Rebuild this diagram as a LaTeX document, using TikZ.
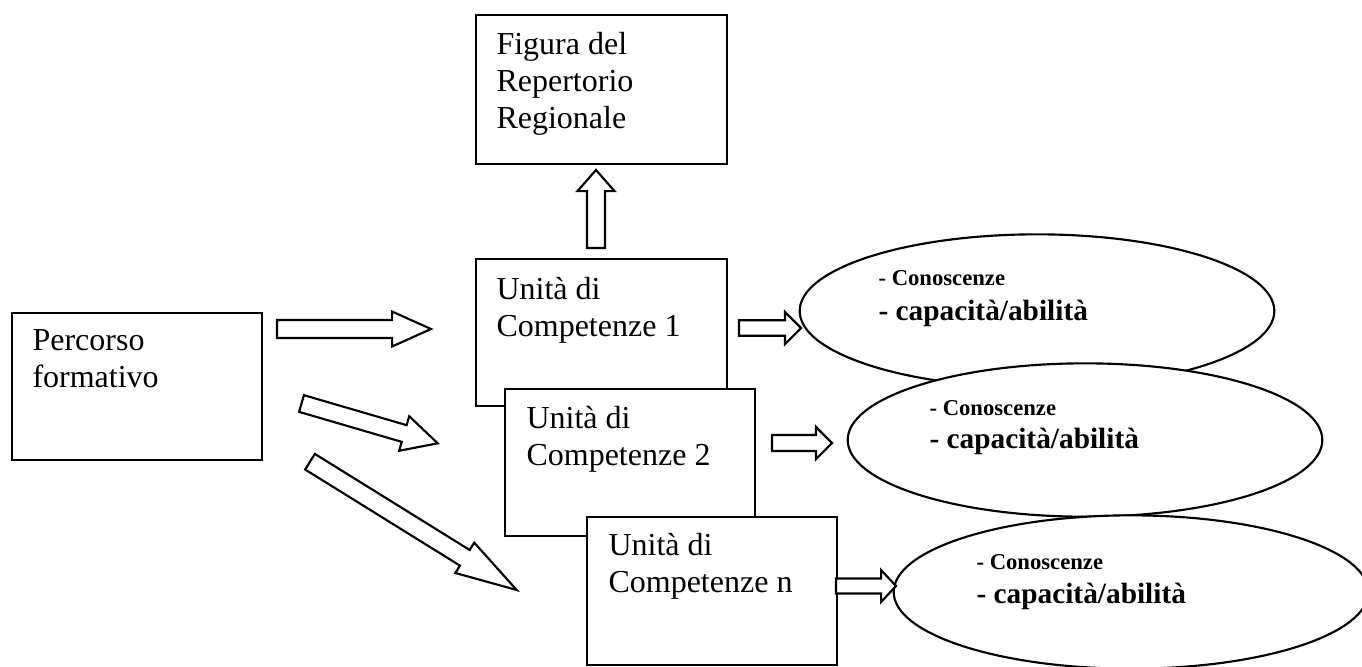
\documentclass[tikz,border=0pt]{standalone}
\usepackage{fontspec}
\setmainfont{Liberation Serif}
\usetikzlibrary{calc,shapes.geometric}
\tikzset{
  box/.style={draw, fill=white, line width=0.8pt, rectangle, inner sep=0pt, anchor=north west},
  ell/.style={draw, fill=white, line width=0.8pt, ellipse, inner sep=0pt, minimum width=178pt, minimum height=57.5pt},
  txt/.style={anchor=base west, inner sep=0pt, align=left, font=\fontsize{12}{13.8}\selectfont},
  smalltxt/.style={anchor=base west, inner sep=0pt, font=\fontsize{8.5}{10}\selectfont\bfseries},
  bigtxt/.style={anchor=base west, inner sep=0pt, font=\fontsize{11}{13}\selectfont\bfseries},
  barrow/.style={draw, fill=white, line width=0.8pt, line join=miter},
}
% #1 tail, #2 tip, #3 shaft half width, #4 head half width, #5 head length
\newcommand\blockarrow[5]{%
  \coordinate (hb) at ($(#2)!#5!(#1)$);
  \draw[barrow] ($(#1)!#3!90:(#2)$) -- ($(hb)!#3!90:(#2)$) -- ($(hb)!#4!90:(#2)$) -- (#2)
    -- ($(hb)!#4!-90:(#2)$) -- ($(hb)!#3!-90:(#2)$) -- ($(#1)!#3!-90:(#2)$) -- cycle;
}
\begin{document}
\begin{tikzpicture}[x=0.375pt, y=-0.375pt]
\useasboundingbox (0,0) rectangle (1362,666);
% ellipses
\node[ell] (e1) at (1037,311) {};
\node[ell] (e2) at (1085,440) {};
\node[ell] (e3) at (1131,592) {};
\node[smalltxt] (e1a) at (878,285) {- Conoscenze};
\node[bigtxt]   (e1b) at (878,320) {- capacità/abilità};
\node[smalltxt] (e2a) at (929,415) {- Conoscenze};
\node[bigtxt]   (e2b) at (929,448) {- capacità/abilità};
\node[smalltxt] (e3a) at (976,569) {- Conoscenze};
\node[bigtxt]   (e3b) at (976,603) {- capacità/abilità};
% boxes (text nodes anchored at the baseline of their last line)
\node[box, minimum width=94.1pt, minimum height=55.9pt] (fig) at (475,14) {};
\node[txt] (figt) at (496,128) {Figura del\\Repertorio\\Regionale};
\node[box, minimum width=94.1pt, minimum height=55.1pt] (u1) at (475,258) {};
\node[txt] (u1t) at (496,336) {Unità di\\Competenze 1};
\node[box, minimum width=93.75pt, minimum height=55.1pt] (u2) at (504,388) {};
\node[txt] (u2t) at (526,465.5) {Unità di\\Competenze 2};
\node[box, minimum width=93.75pt, minimum height=55.5pt] (un) at (586,516) {};
\node[txt] (unt) at (608,592) {Unità di\\Competenze n};
\node[box, minimum width=93.75pt, minimum height=55.1pt] (perc) at (11,312) {};
\node[txt] (perct) at (32,387.5) {Percorso\\formativo};
% arrow end points
\coordinate (upA) at (596,248);   \coordinate (upB) at (596,170);
\coordinate (h1A) at (277,329);   \coordinate (h1B) at (431,329);
\coordinate (d2A) at (301.5,403.5); \coordinate (d2B) at (437.7,443.3);
\coordinate (d3A) at (310,461.7); \coordinate (d3B) at (516.7,590);
\coordinate (a1A) at (739,328);   \coordinate (a1B) at (801,328);
\coordinate (a2A) at (772,443);   \coordinate (a2B) at (832,443);
\coordinate (a3A) at (836,586);   \coordinate (a3B) at (896,586);
\blockarrow{upA}{upB}{3.375pt}{6.94pt}{7.9pt}
\blockarrow{h1A}{h1B}{3.375pt}{6.56pt}{14.6pt}
\blockarrow{d2A}{d2B}{3.26pt}{6.75pt}{13.1pt}
\blockarrow{d3A}{d3B}{3.45pt}{6.7pt}{22.9pt}
\blockarrow{a1A}{a1B}{2.9pt}{6pt}{6pt}
\blockarrow{a2A}{a2B}{3pt}{6pt}{6pt}
\blockarrow{a3A}{a3B}{2.8pt}{6pt}{5.6pt}
\end{tikzpicture}
\end{document}
